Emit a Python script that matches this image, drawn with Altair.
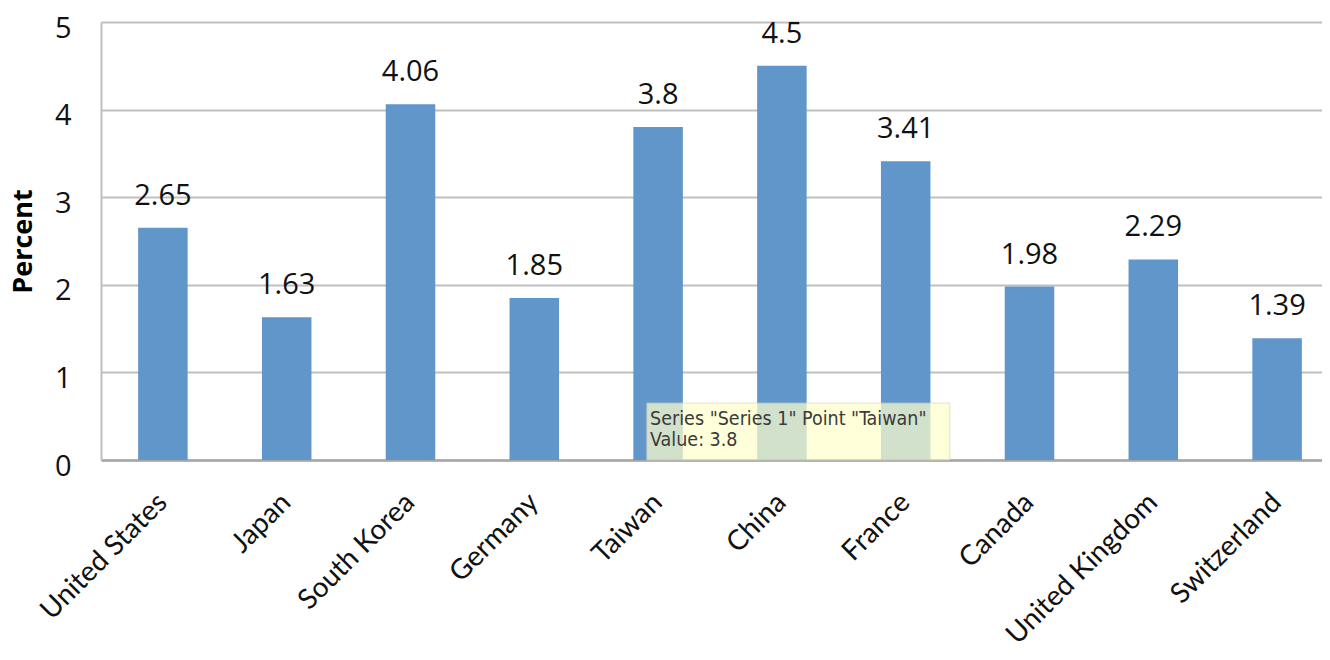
import altair as alt
import pandas as pd

countries = ["United States", "Japan", "South Korea", "Germany", "Taiwan",
             "China", "France", "Canada", "United Kingdom", "Switzerland"]
values = [2.65, 1.63, 4.06, 1.85, 3.8, 4.5, 3.41, 1.98, 2.29, 1.39]
y_ticks = [0, 1, 2, 3, 4, 5]

FONT = "Open Sans"
BAR = "#6096CA"

df = pd.DataFrame({"country": countries, "value": values,
                   "label": [f"{v:g}" for v in values]})

xscale = alt.Scale(domain=countries, range=[0, 1238], paddingInner=0.6, paddingOuter=0.3)
yscale = alt.Scale(domain=[0, 5], nice=False)

x_enc = alt.X("country:N", scale=xscale, sort=countries,
              axis=alt.Axis(title=None, labelAngle=-45, labelAlign="right",
                            labelBaseline="middle", labelFontSize=28, labelFont="Lato",
                            labelColor="#111111", labelPadding=38, ticks=False,
                            domainColor="#A6A6A6", domainWidth=2.5, grid=False,
                            labelLimit=400))

bars = alt.Chart(df).mark_bar(color=BAR).encode(
    x=x_enc,
    y=alt.Y("value:Q", scale=yscale,
            axis=alt.Axis(title="Percent", values=y_ticks, format="d",
                          titleFont=FONT, titleFontSize=27, titleFontWeight="bold",
                          titleColor="#000000", titleX=-78, titleY=219,
                          titleAngle=-90, titleAlign="center", titleBaseline="middle",
                          labelFont=FONT, labelFontSize=29, labelColor="#111111",
                          labelPadding=30, labelOffset=6, ticks=False,
                          domainColor="#BFBFBF", domainWidth=2,
                          gridColor="#BFBFBF", gridWidth=2, gridOpacity=1)),
)

labels = alt.Chart(df).mark_text(font=FONT, fontSize=29, color="#111111",
                                 baseline="alphabetic", dy=-23).encode(
    x=alt.X("country:N", scale=xscale, sort=countries),
    y=alt.Y("value:Q", scale=yscale),
    text="label:N",
)

tip_country = countries[4]
tip_value = values[4]
tip = pd.DataFrame({"country": [tip_country], "y0": [0.0], "y1": [0.65], "ty": [0.4],
                    "text": [[f'Series "Series 1" Point "{tip_country}"', f"Value: {tip_value:g}"]]})

tip_box = alt.Chart(tip).mark_bar(width=303, color="#FFFFCC", opacity=0.72,
                                  stroke="#D6D6C2", strokeWidth=1).encode(
    x=alt.X("country:N", scale=xscale, sort=countries),
    xOffset=alt.value(165),
    y=alt.Y("y0:Q", scale=yscale),
    y2="y1:Q",
)
tip_text = alt.Chart(tip).mark_text(font="DejaVu Sans Condensed", fontSize=19.5,
                                    color="#3A3A3A", align="left", baseline="alphabetic",
                                    dx=-8, lineHeight=21).encode(
    x=alt.X("country:N", scale=xscale, sort=countries),
    y=alt.Y("ty:Q", scale=yscale),
    text="text",
)

chart = alt.layer(bars, labels, tip_box, tip_text).properties(
    width=1221, height=438,
    padding={"left": 93, "top": 14, "right": 0, "bottom": 192},
    autosize=alt.AutoSizeParams(type="none"),
).configure_view(stroke=None).configure(background="white")

chart.save("out.html", embed_options={"renderer": "svg", "actions": False})
